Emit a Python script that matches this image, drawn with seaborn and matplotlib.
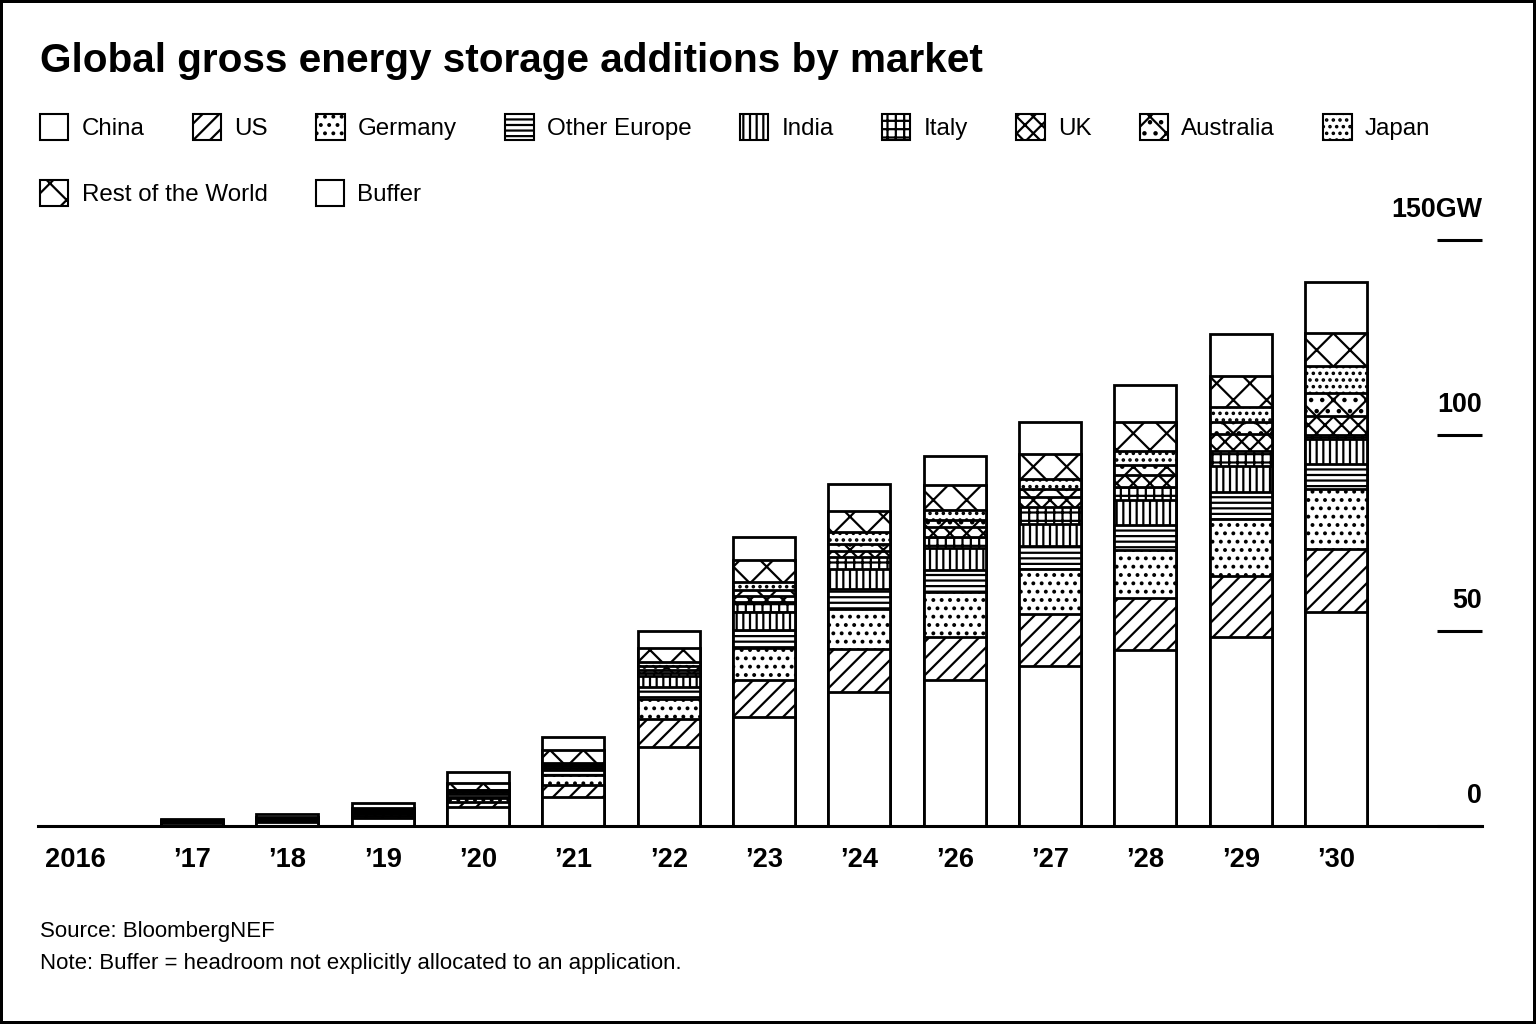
import matplotlib
matplotlib.use("Agg")
import matplotlib.pyplot as plt
import matplotlib.transforms as mtransforms
from matplotlib.patches import Patch
import numpy as np
import seaborn as sns

# categories (no 2025 in the source chart)
years = ["2016", "’17", "’18", "’19", "’20", "’21", "’22", "’23", "’24", "’26", "’27", "’28", "’29", "’30"]

# GW per market
china = [0, 0.7, 1.0, 2.0, 4.9, 7.4, 20.3, 27.9, 34.4, 37.4, 41.0, 45.1, 48.5, 54.9]
us = [0, 0.2, 0.3, 0.5, 1.3, 3.1, 7.2, 9.5, 10.8, 11.0, 13.3, 13.3, 15.4, 15.9]
germany = [0, 0.2, 0.3, 0.5, 1.0, 2.6, 4.9, 8.2, 10.3, 11.5, 11.5, 12.3, 14.6, 15.4]
other_europe = [0, 0.1, 0.2, 0.5, 1.0, 1.2, 3.3, 4.6, 5.1, 5.6, 5.9, 6.4, 6.9, 6.4]
india = [0, 0.03, 0.05, 0.2, 0.4, 0.6, 2.6, 4.6, 5.1, 5.6, 5.6, 6.4, 6.7, 6.4]
italy = [0, 0.03, 0.05, 0.1, 0.2, 0.4, 0.9, 2.5, 3.1, 2.8, 4.4, 3.3, 3.8, 1.0]
uk = [0, 0.03, 0.05, 0.1, 0.2, 0.3, 0.8, 1.5, 1.5, 2.6, 2.6, 3.1, 4.4, 5.0]
australia = [0, 0.03, 0.05, 0.1, 0.15, 0.3, 0.9, 1.7, 2.0, 1.8, 2.0, 2.5, 3.0, 5.8]
japan = [0, 0.03, 0.05, 0.1, 0.15, 0.3, 1.0, 2.0, 2.9, 2.6, 2.6, 3.5, 3.9, 6.9]
rest_of_world = [0, 0.2, 0.25, 0.6, 1.8, 3.3, 3.6, 5.6, 5.4, 6.4, 6.4, 7.4, 7.9, 8.5]
buffer = [0, 0.25, 0.8, 1.2, 2.6, 3.3, 4.4, 5.9, 6.9, 7.4, 8.2, 9.5, 10.8, 13.1]

markets = ["China", "US", "Germany", "Other Europe", "India", "Italy", "UK",
           "Australia", "Japan", "Rest of the World", "Buffer"]
layers = [china, us, germany, other_europe, india, italy, uk,
          australia, japan, rest_of_world, buffer]
hatches = ["", "////", "....", "------", "|||||", "++++", "xxxx",
           "xx...", ".....", "XX", ""]

ytick_vals = [0, 50, 100, 150]
ytick_labels = ["0", "50", "100", "150GW"]

sns.set_style("white")
plt.rcParams["font.family"] = ["Liberation Sans", "DejaVu Sans"]
plt.rcParams["text.color"] = "black"
plt.rcParams["xtick.color"] = "black"
plt.rcParams["xtick.labelcolor"] = "black"
plt.rcParams["legend.labelcolor"] = "black"
plt.rcParams["hatch.linewidth"] = 0.8
plt.rcParams["hatch.color"] = "black"

W, H = 1536, 1024
fig = plt.figure(figsize=(7.68, 5.12), dpi=200)
ax = fig.add_axes([38 / W, (H - 826) / H, (1482 - 38) / W, (826 - 240) / H])

# stacked bars: draw cumulative totals from the top layer down (opaque white fill)
cum = np.cumsum(np.array(layers), axis=0)
for i in reversed(range(len(markets))):
    sns.barplot(x=years, y=cum[i], order=years, color="white", saturation=1,
                edgecolor="black", linewidth=1.0, hatch=hatches[i],
                width=0.65, errorbar=None, ax=ax)

ax.set_xlim(-0.616, 14.53)
ax.set_ylim(0, 150)
ax.set_xlabel("")
ax.set_ylabel("")
for s in ["left", "top", "right"]:
    ax.spines[s].set_visible(False)
ax.spines["bottom"].set_linewidth(1.1)
ax.spines["bottom"].set_color("black")

ax.tick_params(axis="x", length=0, pad=7.5, labelsize=9.8, colors="black")
for lab in ax.get_xticklabels():
    lab.set_fontweight("bold")
    lab.set_color("black")
# the first label sits a little left of its slot in the original
first = ax.get_xticklabels()[0]
first.set_transform(first.get_transform()
                    + mtransforms.ScaledTranslation(-21 / 200, 0, fig.dpi_scale_trans))

ax.yaxis.tick_right()
ax.set_yticks(ytick_vals)
ax.tick_params(axis="y", direction="in", length=16.2, width=1.1, color="black",
               labelright=False, labelleft=False)
trans = mtransforms.offset_copy(
    mtransforms.blended_transform_factory(ax.transAxes, ax.transData),
    fig=fig, x=0, y=30, units="dots")
for v, s in zip(ytick_vals, ytick_labels):
    ax.text(1.0, v, s, transform=trans, ha="right", va="center", color="black",
            fontsize=9.7, fontweight="bold", clip_on=False)

fig.text(40 / W, 1 - 72 / H, "Global gross energy storage additions by market",
         fontsize=14.6, fontweight="bold", va="baseline", color="black")

handles = [Patch(facecolor="white", edgecolor="black", linewidth=0.75, hatch=h, label=m)
           for m, h in zip(markets, hatches)]
leg_kw = dict(loc="upper left", frameon=False, fontsize=8.7, handlelength=1.17,
              handleheight=1.3, handletextpad=0.55, columnspacing=2.0,
              borderaxespad=0, borderpad=0, labelcolor="black")
fig.legend(handles=handles[:9], ncol=9, bbox_to_anchor=(40 / W, 1 - 114 / H), **leg_kw)
fig.legend(handles=handles[9:], ncol=2, bbox_to_anchor=(40 / W, 1 - 180 / H), **leg_kw)

fig.text(40 / W, 1 - 937 / H, "Source: BloombergNEF", fontsize=8, va="baseline",
         color="black")
fig.text(40 / W, 1 - 969 / H,
         "Note: Buffer = headroom not explicitly allocated to an application.",
         fontsize=8, va="baseline", color="black")

fig.patch.set_edgecolor("black")
fig.patch.set_linewidth(1.5)
fig.savefig("out.png", dpi=200, facecolor="white", edgecolor="black")
